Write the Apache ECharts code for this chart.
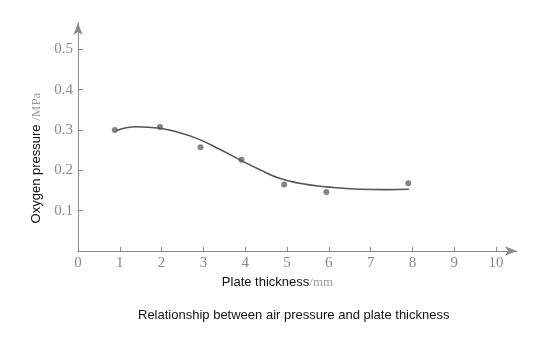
<!DOCTYPE html>
<html>
<head>
<meta charset="utf-8">
<script src="https://cdn.jsdelivr.net/npm/echarts@6/dist/echarts.min.js"></script>
<style>html,body{margin:0;padding:0;background:#fff}#c{width:553px;height:364px}</style>
</head>
<body>
<div id="c"></div>
<script>
// Measured points
const pointX = [0.88, 1.96, 2.93, 3.91, 4.93, 5.94, 7.9];
const pointY = [0.300, 0.307, 0.257, 0.226, 0.165, 0.146, 0.168];
// Fitted curve
const curveX = [0.91, 1.40, 1.96, 2.43, 2.91, 3.39, 3.91, 4.34, 4.82, 5.30, 5.94, 6.73, 7.37, 7.92];
const curveY = [0.298, 0.308, 0.304, 0.293, 0.276, 0.252, 0.224, 0.202, 0.180, 0.168, 0.159, 0.153, 0.152, 0.153];
// Tick labels
const xTicks = [0, 1, 2, 3, 4, 5, 6, 7, 8, 9, 10];
const yTicks = [0.1, 0.2, 0.3, 0.4, 0.5];

const chart = echarts.init(document.getElementById('c'), null, {renderer: 'canvas'});
const serif = '"Liberation Serif", "DejaVu Serif", serif';
const sans = '"Liberation Sans", Arial, sans-serif';
chart.setOption({
  backgroundColor: '#ffffff',
  animation: false,
  title: {
    text: 'Relationship between air pressure and plate thickness',
    left: 138, top: 309, padding: 0,
    textStyle: {fontFamily: sans, fontSize: 13, fontWeight: 'normal', color: '#111'}
  },
  grid: {left: 78, right: 36, top: 23, bottom: 113},
  xAxis: {
    type: 'value', min: 0, max: 10.5,
    splitLine: {show: false},
    axisLine: {show: true, lineStyle: {color: '#8a8a8a', width: 1}, symbol: ['none', 'arrow'], symbolSize: [7, 12]},
    axisTick: {show: true, inside: true, length: 4, lineStyle: {color: '#8a8a8a'}, customValues: xTicks.slice(1)},
    axisLabel: {show: true, customValues: xTicks, margin: 5, color: '#888', fontFamily: serif, fontSize: 15,
      formatter: v => String(v)},
    name: '{a|Plate thickness}{b|/mm}',
    nameLocation: 'middle', nameGap: 24,
    nameTextStyle: {padding: [0, 40, 0, 0],
      rich: {a: {fontFamily: sans, fontSize: 13, color: '#111'}, b: {fontFamily: serif, fontSize: 13, color: '#999'}}}
  },
  yAxis: {
    type: 'value', min: 0, max: 0.565,
    splitLine: {show: false},
    axisLine: {show: true, lineStyle: {color: '#8a8a8a', width: 1}, symbol: ['none', 'arrow'], symbolSize: [7, 12]},
    axisTick: {show: true, inside: true, length: 5, lineStyle: {color: '#8a8a8a'}, customValues: yTicks},
    axisLabel: {show: true, customValues: yTicks, margin: 5, color: '#888', fontFamily: serif, fontSize: 15,
      formatter: v => v.toFixed(1)},
    name: '{a|Oxygen pressure }{b|/MPa}',
    nameLocation: 'middle', nameGap: 29, nameRotate: 90,
    nameTextStyle: {padding: [0, 42, 0, 0],
      rich: {a: {fontFamily: sans, fontSize: 13, color: '#111'}, b: {fontFamily: serif, fontSize: 13, color: '#999'}}}
  },
  series: [
    {
      type: 'line', smooth: true, symbol: 'none',
      data: curveX.map((x, i) => [x, curveY[i]]),
      lineStyle: {color: '#555', width: 1.6}
    },
    {
      type: 'scatter', symbolSize: 6,
      data: pointX.map((x, i) => [x, pointY[i]]),
      itemStyle: {color: '#666'}
    }
  ]
});
</script>
</body>
</html>
